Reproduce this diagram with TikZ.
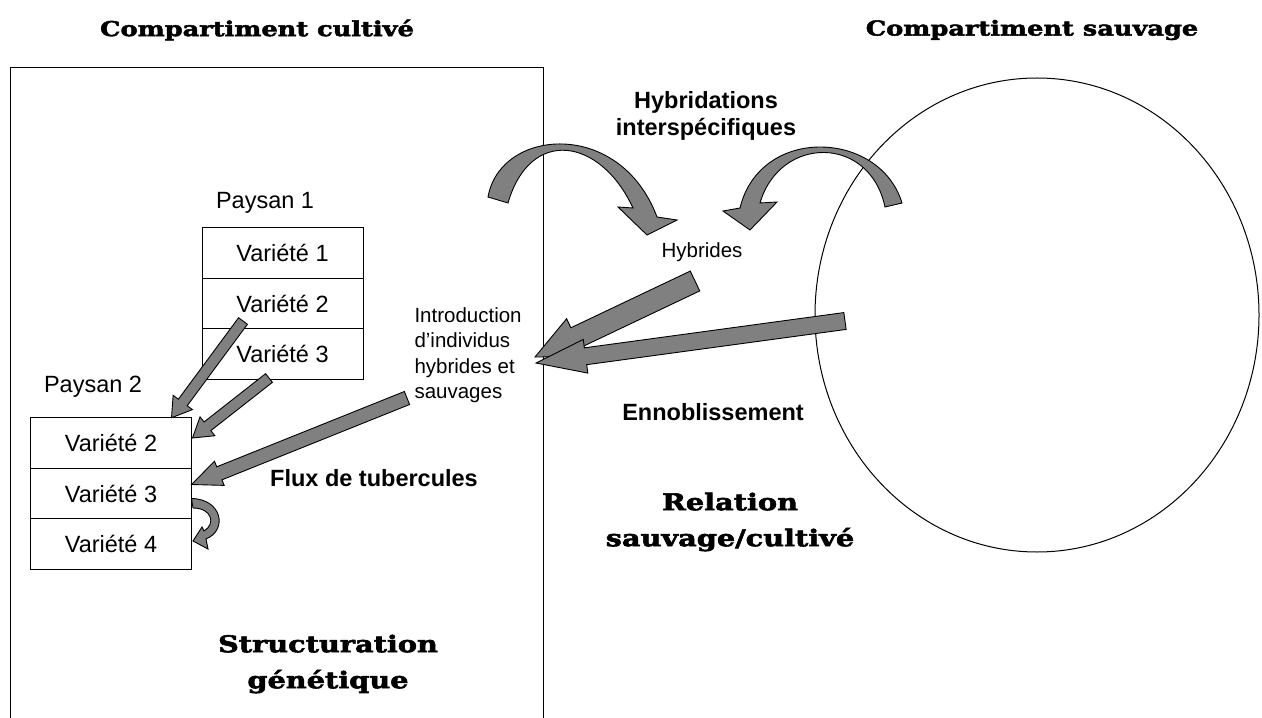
\documentclass[tikz,border=0pt]{standalone}
\usepackage{fontspec}
\setmainfont{Liberation Sans}
\newfontfamily\slabfont[FakeStretch=1.25,FakeBold=2.5]{DejaVu Serif Bold}
\usetikzlibrary{positioning,calc}

\tikzset{
  cell/.style  = {rectangle, draw, line width=0.9bp, minimum width=161bp,
                  minimum height=50.5bp, inner sep=0pt, outer sep=0pt,
                  font=\fontsize{23.5bp}{28bp}\selectfont},
  lbl/.style   = {font=\fontsize{23.5bp}{28bp}\selectfont},
  small/.style = {font=\fontsize{20.5bp}{25.5bp}\selectfont, align=left},
  blbl/.style  = {font=\fontsize{23.5bp}{27bp}\selectfont\bfseries, align=center},
  slab/.style  = {font=\fontsize{23bp}{36bp}\selectfont\slabfont, align=center},
  head/.style  = {font=\fontsize{20.5bp}{25bp}\selectfont\slabfont},
  barrow/.style = {draw, line width=0.9bp, fill=black!50, line join=miter}
}

% block arrow: tail, tip, half shaft, half head, head length
\newcommand{\blockarrow}[5]{%
  \coordinate (ba-h) at ($(#2)!#5!(#1)$);
  \draw[barrow] ($(#1)!#3!90:(#2)$) -- ($(ba-h)!#3!90:(#2)$)
    -- ($(ba-h)!#4!90:(#2)$) -- (#2) -- ($(ba-h)!#4!-90:(#2)$)
    -- ($(ba-h)!#3!-90:(#2)$) -- ($(#1)!#3!-90:(#2)$) -- cycle;
}

\begin{document}
\begin{tikzpicture}[x=1bp,y=-1bp]
  \useasboundingbox (0,0) rectangle (1262,718);

  % compartments
  \draw[line width=1bp] (10,718) -- (10,68) -- (543,68) -- (543,718);
  \draw[line width=1bp] (1037,315) ellipse [x radius=222bp, y radius=237bp];
  \node[head] (hcult) at (257,30) {Compartiment cultivé};
  \node[head] (hsauv) at (1032,30) {Compartiment sauvage};

  % farmers
  \node[lbl] (pay1) at (265,203) {Paysan 1};
  \node[cell] (p1a) at (282.5,253) {Variété 1};
  \node[cell,below=0pt of p1a] (p1b) {Variété 2};
  \node[cell,below=0pt of p1b] (p1c) {Variété 3};
  \node[lbl] (pay2) at (93,387) {Paysan 2};
  \node[cell] (p2a) at (111,443) {Variété 2};
  \node[cell,below=0pt of p2a] (p2b) {Variété 3};
  \node[cell,below=0pt of p2b] (p2c) {Variété 4};

  % labels
  \node[blbl] (hybr) at (706,116) {Hybridations\\interspécifiques};
  \node[small] (hyb) at (702,252) {Hybrides};
  \node[small,anchor=west] (intro) at (411,355)
    {Introduction\\d’individus\\hybrides et\\sauvages};
  \node[blbl] (enno) at (713,412) {Ennoblissement};
  \node[blbl] (flux) at (374,478) {Flux de tubercules};
  \node[slab] (rel) at (730,522) {Relation\\sauvage/cultivé};
  \node[slab] (struc) at (328,664) {Structuration\\génétique};

  % tuber flows
  \coordinate (a1s) at (243,321);
  \coordinate (a1e) at ($(p2a.north east)+(-20,0)$);
  \coordinate (a2s) at (269,378);
  \coordinate (a2e) at ($(p2a.east)+(1,-5)$);
  \coordinate (a3s) at (407,398);
  \coordinate (a3e) at ($(p2b.east)+(0,-9)$);
  \blockarrow{a1s}{a1e}{5.5bp}{12bp}{19bp}
  \blockarrow{a2s}{a2e}{5.5bp}{12bp}{19bp}
  \blockarrow{a3s}{a3e}{7bp}{13bp}{30bp}

  % introduction of hybrids and wild plants
  \coordinate (a4s) at (695,281);
  \coordinate (a4e) at (535,357);
  \coordinate (a5s) at (845,321);
  \coordinate (a5e) at (536,363);
  \blockarrow{a4s}{a4e}{11bp}{21bp}{45bp}
  \blockarrow{a5s}{a5e}{8.5bp}{17bp}{50bp}

  % hybridations
  \draw[barrow] (488,197) .. controls (500,128) and (620,118) .. (657,217)
    -- (677,220) -- (647,235) -- (618,207) -- (633,208)
    .. controls (600,137) and (530,127) .. (508,203) -- cycle;
  \draw[barrow] (902,203) .. controls (880,130) and (760,125) .. (740,208)
    -- (723,211) -- (750,230) -- (777,202) -- (760,203)
    .. controls (780,135) and (870,135) .. (885,207) -- cycle;

  % variety 3 -> variety 4
  \draw[barrow] (p2b.east) ++(0,5) .. controls (222,499) and (228,530) .. (206,539)
    -- (208,549) -- (193,541) -- (202,527) -- (204,531)
    .. controls (216,524) and (212,508) .. (193,508) -- cycle;
\end{tikzpicture}
\end{document}
